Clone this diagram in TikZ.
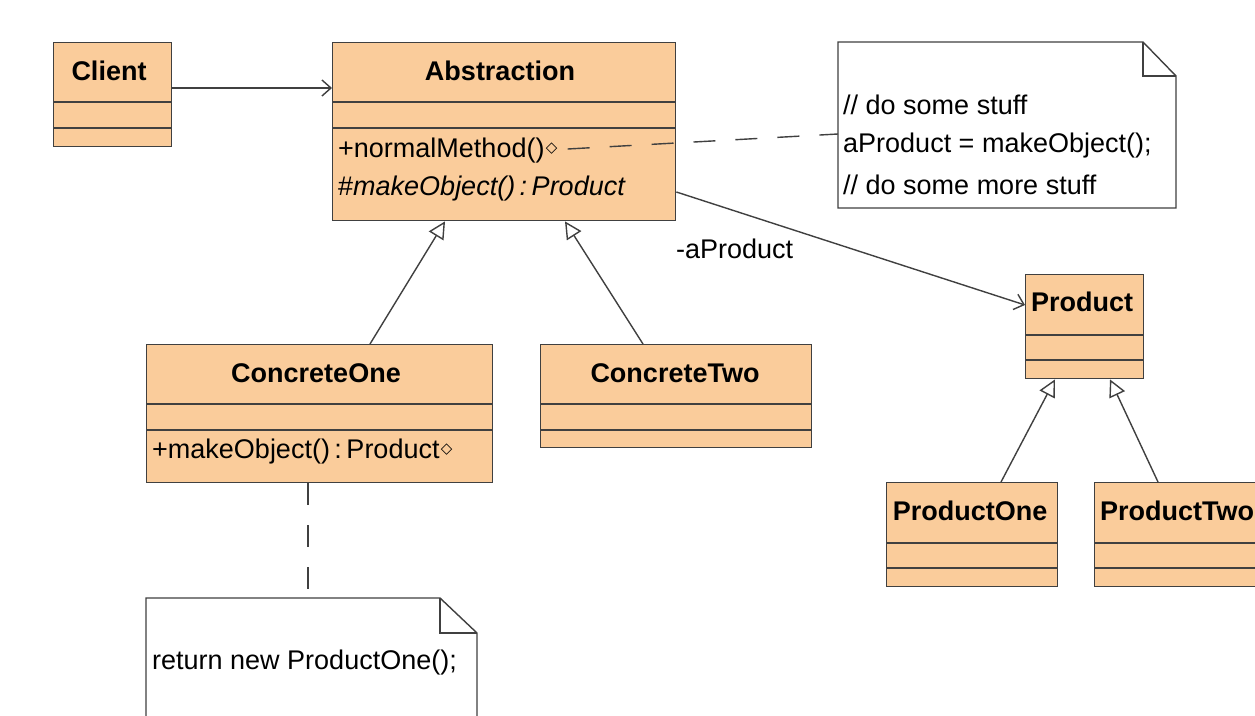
\documentclass[tikz,border=0pt]{standalone}
\usepackage{fontspec}
\setmainfont{Liberation Sans}
\newfontfamily\symfont{DejaVu Sans}
\usetikzlibrary{arrows.meta}
\definecolor{peach}{RGB}{250,204,155}
\definecolor{linec}{RGB}{64,64,64}
\begin{document}
\begin{tikzpicture}[x=1pt,y=-1pt,
  cls/.style={draw=linec, fill=peach, line width=1.4pt, inner sep=0pt, anchor=north west},
  sep/.style={draw=linec, line width=1.4pt},
  title/.style={font=\fontsize{27}{30}\selectfont\bfseries, inner sep=0pt},
  member/.style={font=\fontsize{27}{30}\selectfont, inner sep=0pt, anchor=west},
  notebox/.style={draw=linec, fill=white, line width=1.4pt},
  conn/.style={draw=linec, line width=1.4pt},
  dep/.style={conn, -{Straight Barb[length=9pt,width=16pt]}},
  gen/.style={conn, -{Triangle[open,length=17pt,width=17pt,fill=white]}},
  dashy/.style={conn, dash pattern=on 22pt off 20pt},
  diam/.style={font=\symfont\fontsize{15}{15}\selectfont, inner sep=0pt, anchor=west}
]
\useasboundingbox (0,0) rectangle (1255,715);
\fill[white] (0,0) rectangle (1255,715);

% Client
\node[cls, minimum width=118pt, minimum height=104pt] (client) at (53,42) {};
\draw[sep] (53,102) -- (171,102);
\draw[sep] (53,128) -- (171,128);
\node[title] (clientT) at (109,71) {Client};

% Abstraction
\node[cls, minimum width=343pt, minimum height=178pt] (abs) at (332,42) {};
\draw[sep] (332,102) -- (675,102);
\draw[sep] (332,128) -- (675,128);
\node[title] (absT) at (500,71) {Abstraction};
\node[member] (absM1) at (338,151) {+normalMethod()};
\node[diam] (absD) at ([xshift=1pt,yshift=2pt]absM1.east) {◇};
\node[member] (absM2) at (338,189) {\#\textit{makeObject()\,:\,Product}};

% Note 1
\draw[notebox] (838,42) -- (1143,42) -- (1176,76) -- (1176,208) -- (838,208) -- cycle;
\draw[conn] (1143,42) -- (1143,76) -- (1176,76);
\coordinate (note1) at (838,134);
\node[member] (n1a) at (843,105) {// do some stuff};
\node[member] (n1b) at (843,146) {aProduct = makeObject();};
\node[member] (n1c) at (843,185) {// do some more stuff};

% Product
\node[cls, minimum width=118pt, minimum height=104pt] (prod) at (1025,274) {};
\draw[sep] (1025,335) -- (1143,335);
\draw[sep] (1025,360) -- (1143,360);
\node[title] (prodT) at (1082,302) {Product};

% ConcreteOne
\node[cls, minimum width=346pt, minimum height=138pt] (c1) at (146,344) {};
\draw[sep] (146,404) -- (492,404);
\draw[sep] (146,430) -- (492,430);
\node[title] (c1T) at (316,373) {ConcreteOne};
\node[member] (c1M) at (152,452) {+makeObject()\,:\,Product};
\node[diam] (c1D) at ([xshift=1pt,yshift=2pt]c1M.east) {◇};

% ConcreteTwo
\node[cls, minimum width=271pt, minimum height=103pt] (c2) at (540,344) {};
\draw[sep] (540,404) -- (811,404);
\draw[sep] (540,430) -- (811,430);
\node[title] (c2T) at (675,373) {ConcreteTwo};

% Note 2
\draw[notebox] (146,716) -- (146,598) -- (440,598) -- (477,633) -- (477,716);
\draw[conn] (440,598) -- (440,633) -- (477,633);
\coordinate (note2) at (308,598);
\node[member] (n2) at (152,663) {return new ProductOne();};

% ProductOne
\node[cls, minimum width=171pt, minimum height=104pt] (p1) at (886,482) {};
\draw[sep] (886,543) -- (1057,543);
\draw[sep] (886,568) -- (1057,568);
\node[title] (p1T) at (970,511) {ProductOne};

% ProductTwo
\node[cls, minimum width=180pt, minimum height=104pt] (p2) at (1094,482) {};
\draw[sep] (1094,543) -- (1274,543);
\draw[sep] (1094,568) -- (1274,568);
\node[title, anchor=west] (p2T) at (1100,511) {ProductTwo};

% Connectors
\draw[dep] (client.east |- 0,88) -- (abs.west |- 0,88);
\draw[dep] (abs.east |- 0,192) -- (prod.west |- 0,305);
\node[member] (lbl) at (676,249) {-aProduct};
\draw[dashy] ([xshift=10pt]absD.east) -- (note1);
\draw[dashy] (c1.south -| note2) -- (note2);
\draw[gen] (c1.north -| 370,0) -- (abs.south -| 445,0);
\draw[gen] (c2.north -| 643,0) -- (abs.south -| 565,0);
\draw[gen] (p1.north -| 1001,0) -- (prod.south -| 1055,0);
\draw[gen] (p2.north -| 1158,0) -- (prod.south -| 1110,0);
\end{tikzpicture}
\end{document}
